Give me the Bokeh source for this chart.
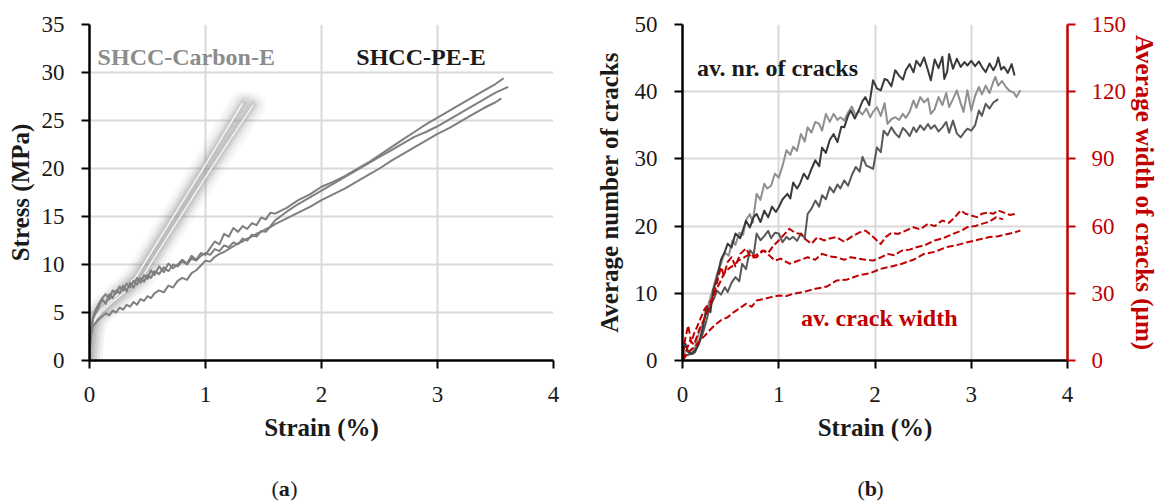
from bokeh.plotting import figure
from bokeh.models import Range1d, LinearAxis, FixedTicker, Label
from bokeh.layouts import row, column
from bokeh.embed import file_html
from bokeh.resources import INLINE

# ---------------- Panel (a): stress-strain ----------------
pe_x = [0, 0.01, 0.03, 0.05, 0.08, 0.11, 0.14, 0.17, 0.2, 0.23,
        0.26, 0.29, 0.32, 0.35, 0.38, 0.41, 0.44, 0.47, 0.5, 0.53,
        0.56, 0.6, 0.64, 0.68, 0.72, 0.76, 0.8, 0.84, 0.88, 0.92,
        0.96, 1.0, 1.04, 1.08, 1.12, 1.16, 1.2, 1.24, 1.28, 1.32,
        1.36, 1.4, 1.44, 1.48, 1.52, 1.56, 1.6, 1.7, 1.8, 1.9,
        2.0, 2.1, 2.2, 2.3, 2.4, 2.5, 2.6, 2.7, 2.8, 2.9,
        3.0, 3.1, 3.2, 3.3, 3.4, 3.5]
pe_end_x = [3.57, 3.61, 3.55]
pe1_y = [0, 2.5, 4.3, 4.9, 5.6, 6.4, 5.9, 6.9, 6.5, 7.3,
         7.0, 7.8, 7.2, 8.1, 7.6, 8.6, 8.1, 8.9, 8.5, 9.4,
         8.9, 9.8, 9.2, 10.1, 9.6, 10.0, 10.5, 10.1, 10.9, 10.5,
         11.2, 11.0, 11.7, 12.4, 12.1, 13.2, 12.9, 13.8, 13.4, 14.0,
         13.7, 14.3, 14.1, 14.9, 14.7, 15.4, 15.3, 15.9, 16.7, 17.3,
         18.1, 18.6, 19.2, 19.9, 20.6, 21.4, 22.2, 23.0, 23.8, 24.6,
         25.3, 26.0, 26.7, 27.4, 28.1, 28.8, 29.4]
pe2_y = [0, 2.8, 4.5, 5.2, 5.9, 6.5, 6.9, 6.4, 7.3, 7.0,
         7.7, 7.3, 8.0, 7.6, 8.3, 7.9, 8.6, 8.2, 8.9, 8.6,
         9.3, 9.0, 9.7, 9.3, 10.0, 9.8, 10.3, 10.0, 10.6, 10.4,
         10.9, 11.2, 11.0, 11.6, 11.4, 12.0, 11.8, 12.3, 12.1, 12.7,
         12.5, 13.1, 12.9, 13.5, 13.4, 14.0, 14.6, 15.5, 16.3, 17.0,
         17.7, 18.4, 19.1, 19.8, 20.5, 21.2, 21.9, 22.6, 23.3, 23.8,
         24.4, 25.1, 25.8, 26.5, 27.2, 27.9, 28.5]
pe3_y = [0, 2.2, 3.6, 3.9, 4.3, 4.6, 4.9, 4.7, 5.2, 5.0,
         5.5, 5.3, 5.8, 5.6, 6.1, 5.8, 6.4, 6.2, 6.7, 6.5,
         7.0, 7.3, 7.1, 7.8, 7.6, 8.3, 8.6, 8.4, 9.1, 9.4,
         9.9, 10.4, 10.3, 10.8, 11.1, 11.3, 11.6, 11.9, 12.2, 12.4,
         12.7, 12.9, 13.2, 13.4, 13.7, 13.9, 14.2, 14.8, 15.4, 16.0,
         16.7, 17.3, 17.9, 18.6, 19.3, 20.0, 20.8, 21.5, 22.2, 22.9,
         23.6, 24.2, 24.9, 25.6, 26.3, 26.9, 27.3]
c1_x = [0, 0.02, 0.05, 0.1, 0.2, 0.3, 0.4, 0.6, 0.8, 1.0, 1.2, 1.32]
c1_y = [0, 3.2, 4.5, 5.3, 6.4, 7.5, 8.7, 12.6, 16.5, 20.4, 24.4, 26.8]
c2_x = [0, 0.02, 0.05, 0.1, 0.2, 0.3, 0.45, 0.6, 0.8, 1.0, 1.2, 1.41]
c2_y = [0, 3.0, 4.3, 5.0, 6.1, 7.1, 8.6, 11.5, 15.3, 19.1, 22.8, 26.6]
a_xticks = [0, 1, 2, 3, 4]
a_yticks = [0, 5, 10, 15, 20, 25, 30, 35]

# ---------------- Panel (b): cracks ----------------
n1_x = [0, 0.03, 0.06, 0.1, 0.13, 0.17, 0.21, 0.25, 0.29, 0.32, 0.36, 0.4, 0.44, 0.47, 0.51, 0.55, 0.6, 0.66, 0.7, 0.74,
        0.77, 0.81, 0.85, 0.89, 0.93, 0.97, 1.0, 1.04, 1.09, 1.12, 1.15, 1.19, 1.22, 1.26, 1.3, 1.34, 1.38, 1.42, 1.45, 1.49,
        1.53, 1.57, 1.61, 1.65, 1.68, 1.72, 1.75, 1.79, 1.83, 1.87, 1.9, 1.94, 1.98, 2.02, 2.06, 2.1, 2.13, 2.17, 2.21, 2.25,
        2.29, 2.32, 2.36, 2.4, 2.43, 2.47, 2.51, 2.55, 2.58, 2.62, 2.66, 2.7, 2.72, 2.75, 2.77, 2.81, 2.85, 2.89, 2.93, 2.96,
        3.0, 3.04, 3.08, 3.11, 3.15, 3.19, 3.23, 3.26, 3.28, 3.31, 3.34, 3.38, 3.42, 3.45]
n1_y = [1.0, 2.5, 1.2, 1.0, 1.5, 2.5, 4.8, 8.0, 7.2, 10.5, 12.4, 15.0, 16.2, 17.4, 16.8, 18.9, 18.2, 20.8, 19.8, 21.4,
        21.8, 20.6, 22.3, 21.3, 22.9, 22.1, 22.8, 24.0, 24.8, 24.1, 26.5, 25.6, 26.3, 27.8, 27.0, 28.5, 29.8, 28.9, 31.7, 30.9,
        32.8, 33.7, 32.5, 34.8, 34.7, 36.4, 37.2, 36.0, 37.2, 38.6, 39.2, 38.0, 41.7, 40.5, 40.2, 41.9, 41.7, 40.8, 43.2, 42.4,
        41.8, 43.2, 44.1, 42.9, 44.6, 43.8, 45.1, 43.2, 41.7, 44.8, 43.5, 45.2, 41.9, 43.0, 45.6, 43.4, 44.9, 43.7, 44.4, 43.9,
        44.6, 43.8, 44.5, 43.7, 42.9, 44.2, 43.2, 44.0, 45.1, 43.3, 43.7, 42.8, 44.1, 42.4]
n2_x = [0, 0.05, 0.09, 0.13, 0.17, 0.21, 0.25, 0.28, 0.32, 0.36, 0.4, 0.44, 0.48, 0.52, 0.55, 0.59, 0.63, 0.66, 0.7, 0.73,
        0.77, 0.81, 0.85, 0.88, 0.92, 0.96, 1.0, 1.04, 1.08, 1.12, 1.15, 1.19, 1.23, 1.27, 1.3, 1.34, 1.38, 1.42, 1.45, 1.49,
        1.53, 1.57, 1.61, 1.64, 1.68, 1.72, 1.76, 1.8, 1.83, 1.87, 1.91, 1.95, 1.98, 2.02, 2.06, 2.1, 2.13, 2.17, 2.21, 2.25,
        2.29, 2.32, 2.36, 2.4, 2.43, 2.47, 2.51, 2.55, 2.58, 2.62, 2.66, 2.7, 2.74, 2.77, 2.81, 2.85, 2.89, 2.92, 2.96, 3.0,
        3.04, 3.08, 3.11, 3.15, 3.19, 3.23, 3.25, 3.28, 3.32, 3.36, 3.4, 3.44, 3.47, 3.51]
n2_y = [1.0, 1.5, 1.2, 2.0, 4.0, 5.5, 7.2, 8.9, 10.8, 13.0, 14.4, 16.1, 15.6, 17.9, 17.2, 19.0, 18.7, 20.9, 21.8, 20.5,
        24.8, 23.9, 26.3, 25.6, 26.0, 27.8, 27.2, 29.0, 31.3, 30.6, 31.8, 31.2, 33.7, 32.6, 34.7, 33.9, 35.5, 35.2, 34.2, 36.7,
        35.5, 36.7, 35.8, 36.2, 35.7, 36.9, 37.8, 36.4, 37.2, 36.6, 37.5, 36.2, 37.0, 37.7, 36.4, 38.3, 35.2, 35.9, 36.2, 35.8,
        36.7, 36.1, 37.0, 38.7, 37.6, 39.2, 38.4, 39.0, 36.7, 37.4, 39.2, 38.0, 39.8, 37.7, 38.9, 40.2, 38.3, 37.0, 40.2, 37.2,
        39.4, 40.7, 39.6, 40.9, 39.8, 41.5, 42.2, 40.9, 41.6, 40.7, 40.1, 39.9, 39.2, 40.2]
n3_x = [0, 0.05, 0.1, 0.13, 0.17, 0.21, 0.25, 0.28, 0.32, 0.36, 0.4, 0.44, 0.47, 0.51, 0.55, 0.59, 0.62, 0.66, 0.7, 0.74,
        0.77, 0.81, 0.85, 0.89, 0.92, 0.96, 1.0, 1.04, 1.08, 1.11, 1.15, 1.19, 1.23, 1.27, 1.3, 1.34, 1.38, 1.42, 1.45, 1.49,
        1.53, 1.57, 1.61, 1.64, 1.68, 1.72, 1.76, 1.8, 1.84, 1.87, 1.91, 1.94, 1.98, 2.02, 2.06, 2.09, 2.13, 2.17, 2.21, 2.25,
        2.29, 2.32, 2.36, 2.4, 2.43, 2.47, 2.51, 2.55, 2.58, 2.62, 2.66, 2.7, 2.74, 2.77, 2.81, 2.85, 2.89, 2.93, 2.96, 3.0,
        3.04, 3.08, 3.11, 3.15, 3.19, 3.23, 3.28]
n3_y = [1.0, 0.8, 1.0, 1.2, 2.5, 4.0, 6.0, 7.9, 9.0, 10.4, 9.8, 10.9, 10.2, 11.6, 12.4, 11.8, 14.4, 13.6, 16.4, 15.8,
        18.9, 17.9, 18.5, 19.3, 18.2, 19.0, 18.9, 17.6, 18.4, 18.0, 18.4, 17.8, 18.9, 18.2, 21.8, 22.6, 23.8, 22.9, 24.6, 24.0,
        25.8, 25.0, 26.2, 25.6, 26.8, 26.0, 27.6, 28.8, 28.1, 30.3, 29.0, 28.8, 28.5, 31.7, 31.0, 34.2, 33.5, 34.7, 33.8, 33.2,
        34.6, 34.2, 33.4, 34.7, 34.0, 35.0, 34.3, 35.2, 34.5, 35.0, 34.1, 34.7, 35.5, 33.9, 35.7, 33.8, 33.2, 34.0, 34.5, 34.2,
        35.0, 37.2, 36.4, 38.2, 37.5, 38.4, 38.9]
w1_x = [0, 0.03, 0.06, 0.09, 0.12, 0.15, 0.19, 0.23, 0.27, 0.32, 0.36, 0.4, 0.43, 0.47, 0.51, 0.55, 0.6, 0.66, 0.71, 0.77,
        0.83, 0.89, 0.94, 1.0, 1.05, 1.11, 1.17, 1.23, 1.28, 1.34, 1.4, 1.47, 1.53, 1.6, 1.68, 1.75, 1.83, 1.9, 1.96, 2.02,
        2.06, 2.11, 2.17, 2.24, 2.32, 2.4, 2.47, 2.55, 2.62, 2.7, 2.77, 2.83, 2.89, 2.94, 3.0, 3.06, 3.11, 3.17, 3.23, 3.28,
        3.34, 3.4, 3.47]
w1_y = [3, 10, 15.6, 8, 12, 14.9, 19, 23, 25, 28.3, 35, 41.7, 38, 44, 46.1, 42, 47.6, 50, 46, 46.1,
        49.1, 48, 51, 53.6, 56, 58.8, 57, 56.5, 54, 52.1, 55, 53.6, 54.5, 55.1, 53, 55.1, 57, 58, 56, 53.6,
        52, 55.1, 57, 56.5, 58.0, 59.5, 58.5, 61.0, 60, 62.5, 61.5, 64, 67.0, 65.5, 64.7, 64.0, 65.5, 66, 65.5, 67.0,
        66, 65, 65.5]
w2_x = [0, 0.04, 0.08, 0.12, 0.17, 0.22, 0.28, 0.33, 0.38, 0.43, 0.48, 0.53, 0.58, 0.64, 0.7, 0.74, 0.8, 0.85, 0.9, 0.96,
        1.02, 1.11, 1.2, 1.3, 1.38, 1.45, 1.53, 1.6, 1.68, 1.75, 1.83, 1.9, 1.98, 2.06, 2.13, 2.2, 2.28, 2.36, 2.43, 2.52,
        2.62, 2.7, 2.81, 2.9, 2.96, 3.04, 3.11, 3.19, 3.26, 3.33]
w2_y = [0, 4.5, 9, 7, 13.4, 18, 23.8, 30, 34, 38.7, 41, 42.5, 44.6, 46, 47.6, 46.5, 48, 49.1, 47, 44.6,
        45.5, 43.2, 44.5, 46.1, 45, 47.6, 46.5, 46.1, 45, 46.1, 45.5, 45, 44.6, 46, 47.6, 47, 49.1, 49.5, 50.6, 51.5,
        53.6, 54.5, 56.5, 58, 59.5, 60, 61.0, 62, 64.0, 63]
w3_x = [0, 0.05, 0.09, 0.13, 0.18, 0.23, 0.28, 0.34, 0.4, 0.47, 0.53, 0.6, 0.66, 0.72, 0.77, 0.85, 0.92, 1.0, 1.08, 1.15,
        1.25, 1.38, 1.5, 1.6, 1.7, 1.83, 1.95, 2.06, 2.17, 2.28, 2.4, 2.51, 2.62, 2.74, 2.85, 2.96, 3.08, 3.19, 3.28, 3.38,
        3.45, 3.51]
w3_y = [0, 3, 5, 6, 9, 11, 13.4, 16, 18, 19.3, 21.5, 23.5, 25.3, 24, 26.8, 27.5, 28.3, 29, 28.8, 29.8,
        30.5, 32.0, 33, 35.7, 36, 38.0, 39, 40.9, 42, 43.2, 45, 47.6, 48.5, 50.6, 51.5, 52.8, 54, 55.1, 55.5, 56.5,
        57.2, 58.0]
b_xticks = [0, 1, 2, 3, 4]
b_yticks = [0, 10, 20, 30, 40, 50]
b_y2ticks = [0, 30, 60, 90, 120, 150]

FONT = "Liberation Serif"
RED = "#c00000"
GRID = "#d9d9d9"
INK = "#1a1a1a"
MAIN_H = 468
CAP_H = 34


def pair(x, y):
    n = min(len(x), len(y))
    return list(x[:n]), list(y[:n])


def style_axis(ax, color, label_standoff, title_standoff):
    ax.axis_line_color = color
    ax.axis_line_width = 2.5
    ax.major_tick_line_color = color
    ax.major_tick_line_width = 2
    ax.major_tick_out = 8
    ax.major_tick_in = 0
    ax.minor_tick_line_color = None
    ax.major_label_text_font = FONT
    ax.major_label_text_font_size = "23px"
    ax.major_label_text_color = INK if color == "black" else color
    ax.major_label_standoff = label_standoff
    ax.axis_label_text_font = FONT
    ax.axis_label_text_font_style = "bold"
    ax.axis_label_text_font_size = "25px"
    ax.axis_label_text_color = INK if color == "black" else color
    ax.axis_label_standoff = title_standoff


def base_fig(width, ymax, left, right, bottom):
    p = figure(width=width, height=MAIN_H, x_range=Range1d(0, 4), y_range=Range1d(0, ymax),
               output_backend="svg", toolbar_location=None,
               min_border_left=left, min_border_right=right, min_border_top=24, min_border_bottom=bottom)
    p.outline_line_color = None
    p.background_fill_color = "white"
    p.border_fill_color = "white"
    for g in (p.xgrid, p.ygrid):
        g.grid_line_color = GRID
        g.grid_line_width = 2
    return p


def caption_fig(width, letter, center):
    c = figure(width=width, height=CAP_H, x_range=Range1d(0, width), y_range=Range1d(0, CAP_H),
               output_backend="svg", toolbar_location=None, min_border=0)
    c.axis.visible = False
    c.grid.visible = False
    c.outline_line_color = None
    w_par = 7.3
    w_let = 11.5
    x0 = center - (2 * w_par + w_let) / 2
    y = CAP_H - 20
    common = dict(y=y, text_baseline="middle", text_font=FONT, text_font_size="22px", text_color=INK)
    c.add_layout(Label(x=x0, text="(", **common))
    c.add_layout(Label(x=x0 + w_par, text=letter, text_font_style="bold", **common))
    c.add_layout(Label(x=x0 + w_par + w_let, text=")", **common))
    return c


# ---------- figure a ----------
pa = base_fig(584, 35, 89, 31, MAIN_H - 24 - 342)
pa.xaxis.ticker = FixedTicker(ticks=a_xticks)
pa.yaxis.ticker = FixedTicker(ticks=a_yticks)
pa.xaxis.axis_label = "Strain (%)"
pa.yaxis.axis_label = "Stress (MPa)"
style_axis(pa.xaxis[0], "black", 18, 9)
style_axis(pa.yaxis[0], "black", 17, 5)

# glow around the carbon curves
for w, a in [(26, 0.05), (20, 0.07), (14, 0.09), (9, 0.12), (5, 0.15)]:
    for cx, cy in (pair(c1_x, c1_y), pair(c2_x, c2_y)):
        pa.line(cx, cy, line_width=w, line_color="#8a8a8a", line_alpha=a, line_cap="round", line_join="round")
for cx, cy in (pair(c1_x, c1_y), pair(c2_x, c2_y)):
    pa.line(cx, cy, line_width=1.6, line_color="#f2f2f2", line_join="round")

for py, xe in ((pe1_y, pe_end_x[0]), (pe2_y, pe_end_x[1]), (pe3_y, pe_end_x[2])):
    px, py2 = pair(pe_x + [xe], py)
    pa.line(px, py2, line_width=2, line_color="#7f7f7f", line_join="round")

pa.add_layout(Label(x=0.07, y=31.6, text="SHCC-Carbon-E", text_baseline="middle", text_font=FONT,
                    text_font_style="bold", text_font_size="24px", text_color="#8c8c8c"))
pa.add_layout(Label(x=2.3, y=31.6, text="SHCC-PE-E", text_baseline="middle", text_font=FONT,
                    text_font_style="bold", text_font_size="24px", text_color=INK))

# ---------- figure b ----------
pb = base_fig(577, 50, 98, 92, MAIN_H - 24 - 336)
pb.extra_y_ranges = {"w": Range1d(0, 150)}
pb.xaxis.ticker = FixedTicker(ticks=b_xticks)
pb.yaxis.ticker = FixedTicker(ticks=b_yticks)
pb.xaxis.axis_label = "Strain (%)"
pb.yaxis.axis_label = "Average number of cracks"
style_axis(pb.xaxis[0], "black", 18, 9)
style_axis(pb.yaxis[0], "black", 17, 9)
ax2 = LinearAxis(y_range_name="w", ticker=FixedTicker(ticks=b_y2ticks), axis_label="Average width of cracks (µm)")
style_axis(ax2, RED, 16, 2)
pb.add_layout(ax2, "right")

for (px, py), col in ((pair(n2_x, n2_y), "#8f8f8f"), (pair(n3_x, n3_y), "#595959"), (pair(n1_x, n1_y), "#3a3a3a")):
    pb.line(px, py, line_width=2, line_color=col, line_join="round")
for px, py in (pair(w1_x, w1_y), pair(w2_x, w2_y), pair(w3_x, w3_y)):
    pb.line(px, py, y_range_name="w", line_width=2, line_color=RED, line_dash="7 3", line_join="round")

pb.add_layout(Label(x=0.15, y=43.6, text="av. nr. of cracks", text_baseline="middle", text_font=FONT,
                    text_font_style="bold", text_font_size="24px", text_color=INK))
pb.add_layout(Label(x=1.23, y=6.3, text="av. crack width", text_baseline="middle", text_font=FONT,
                    text_font_style="bold", text_font_size="24px", text_color=RED))

cap_a = caption_fig(584, "a", 284)
cap_b = caption_fig(577, "b", 870 - 584)

layout = column(row(pa, pb), row(cap_a, cap_b))
open("out.html", "w").write(file_html(layout, INLINE))
